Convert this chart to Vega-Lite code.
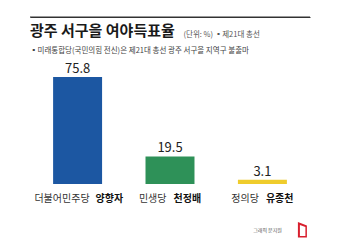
{
  "$schema": "https://vega.github.io/schema/vega-lite/v6.json",
  "width": 280,
  "height": 167,
  "autosize": {"type": "none"},
  "padding": {"left": 30, "top": 17, "right": 30, "bottom": 56},
  "background": "white",
  "config": {
    "view": {"stroke": null},
    "font": "Noto Sans CJK KR",
    "axisX": {"labels": false, "ticks": false, "domain": false, "grid": false, "titleOpacity": 0},
    "axisY": {"labels": false, "ticks": false, "domain": false, "grid": false}
  },
  "title": {
    "text": "광주 서구을 여야득표율",
    "subtitle": "▪미래통합당(국민의힘 전신)은 제21대 총선 광주 서구을 지역구 불출마",
    "anchor": "start",
    "frame": "group",
    "orient": "top",
    "offset": -38,
    "font": "Noto Sans CJK KR",
    "fontSize": 15,
    "fontWeight": "bold",
    "color": "#1a1a1a",
    "subtitleFont": "Noto Sans CJK KR",
    "subtitleFontSize": 7.5,
    "subtitleColor": "#444444",
    "subtitlePadding": 8
  },
  "datasets": {
    "votes": [
      {"party": "더불어민주당", "name": "양향자", "value": 75.8},
      {"party": "민생당", "name": "천정배", "value": 19.5},
      {"party": "정의당", "name": "유종천", "value": 3.1}
    ],
    "extra": [{"credit": "그래픽 문지원"}]
  },
  "layer": [
    {
      "data": {"name": "extra"},
      "mark": {"type": "rule", "color": "#333333", "strokeWidth": 1},
      "encoding": {
        "x": {"value": 0},
        "x2": {"value": "width"},
        "y": {"datum": 118.4, "type": "quantitative"}
      }
    },
    {
      "data": {"name": "votes"},
      "mark": {"type": "bar"},
      "encoding": {
        "x": {"field": "name", "type": "nominal", "sort": null,
              "scale": {"paddingInner": 0.47, "paddingOuter": 0.25}},
        "y": {"field": "value", "type": "quantitative",
              "scale": {"domain": [0, 118.4], "nice": false},
              "axis": {"title": "(단위: %)  ▪제21대 총선", "titleAngle": 0, "titleX": 153,
                       "titleY": 19, "titleAlign": "left", "titleBaseline": "alphabetic",
                       "titleFontSize": 7.5, "titleFontWeight": "normal", "titleColor": "#555555",
                       "titleFont": "Noto Sans CJK KR",
                       "grid": true, "values": [118.4], "gridColor": "#333333", "gridWidth": 1, "gridOpacity": 1}},
        "color": {"field": "name", "type": "nominal", "sort": null,
                  "scale": {"range": ["#1c57a2", "#2e9158", "#efcc2c"]}, "legend": null}
      }
    },
    {
      "data": {"name": "votes"},
      "mark": {"type": "text", "baseline": "alphabetic", "dy": -4, "fontSize": 13,
               "color": "#222222", "font": "Noto Sans CJK KR"},
      "encoding": {
        "x": {"field": "name", "type": "nominal", "sort": null},
        "y": {"field": "value", "type": "quantitative",
              "axis": {"title": "(단위: %)  ▪제21대 총선", "titleAngle": 0, "titleX": 153,
                       "titleY": 19, "titleAlign": "left", "titleBaseline": "alphabetic",
                       "titleFontSize": 7.5, "titleFontWeight": "normal", "titleColor": "#555555",
                       "titleFont": "Noto Sans CJK KR",
                       "grid": true, "values": [118.4], "gridColor": "#333333", "gridWidth": 1, "gridOpacity": 1}},
        "text": {"field": "value", "type": "quantitative", "format": ".1f"}
      }
    },
    {
      "data": {"name": "votes"},
      "transform": [{"filter": "datum.party == '더불어민주당'"}],
      "mark": {"type": "text", "align": "right", "baseline": "alphabetic", "dx": 12, "dy": 18,
               "fontSize": 10, "color": "#333333", "font": "Noto Sans CJK KR"},
      "encoding": {
        "x": {"field": "name", "type": "nominal", "sort": null},
        "y": {"datum": 0, "type": "quantitative"},
        "text": {"field": "party"}
      }
    },
    {
      "data": {"name": "votes"},
      "transform": [{"filter": "datum.party == '더불어민주당'"}],
      "mark": {"type": "text", "align": "left", "baseline": "alphabetic", "dx": 18, "dy": 18,
               "fontSize": 10, "fontWeight": "bold", "color": "#111111", "font": "Noto Sans CJK KR"},
      "encoding": {
        "x": {"field": "name", "type": "nominal", "sort": null},
        "y": {"datum": 0, "type": "quantitative"},
        "text": {"field": "name"}
      }
    },
    {
      "data": {"name": "votes"},
      "transform": [{"filter": "datum.party != '더불어민주당'"}],
      "mark": {"type": "text", "align": "right", "baseline": "alphabetic", "dx": -3.5, "dy": 18,
               "fontSize": 10, "color": "#333333", "font": "Noto Sans CJK KR"},
      "encoding": {
        "x": {"field": "name", "type": "nominal", "sort": null},
        "y": {"datum": 0, "type": "quantitative"},
        "text": {"field": "party"}
      }
    },
    {
      "data": {"name": "votes"},
      "transform": [{"filter": "datum.party != '더불어민주당'"}],
      "mark": {"type": "text", "align": "left", "baseline": "alphabetic", "dx": 3.5, "dy": 18,
               "fontSize": 10, "fontWeight": "bold", "color": "#111111", "font": "Noto Sans CJK KR"},
      "encoding": {
        "x": {"field": "name", "type": "nominal", "sort": null},
        "y": {"datum": 0, "type": "quantitative"},
        "text": {"field": "name"}
      }
    },
    {
      "data": {"name": "extra"},
      "mark": {"type": "text", "align": "right", "baseline": "alphabetic", "dx": 19.5, "dy": 48,
               "fontSize": 5, "color": "#555555", "font": "Noto Sans CJK KR"},
      "encoding": {
        "x": {"datum": "유종천", "type": "nominal"},
        "y": {"datum": 0, "type": "quantitative"},
        "text": {"field": "credit"}
      }
    },
    {
      "data": {"name": "extra"},
      "mark": {"type": "point", "filled": true, "size": 4, "opacity": 1, "color": "#d81f2e",
               "shape": "M35.5,38 L44.5,41.5 L44.5,53.5 L35.5,53.5 Z M37.5,41 L37.5,52 L43,52 L43,43 Z"},
      "encoding": {
        "x": {"datum": "유종천", "type": "nominal"},
        "y": {"datum": 0, "type": "quantitative"}
      }
    }
  ]
}
